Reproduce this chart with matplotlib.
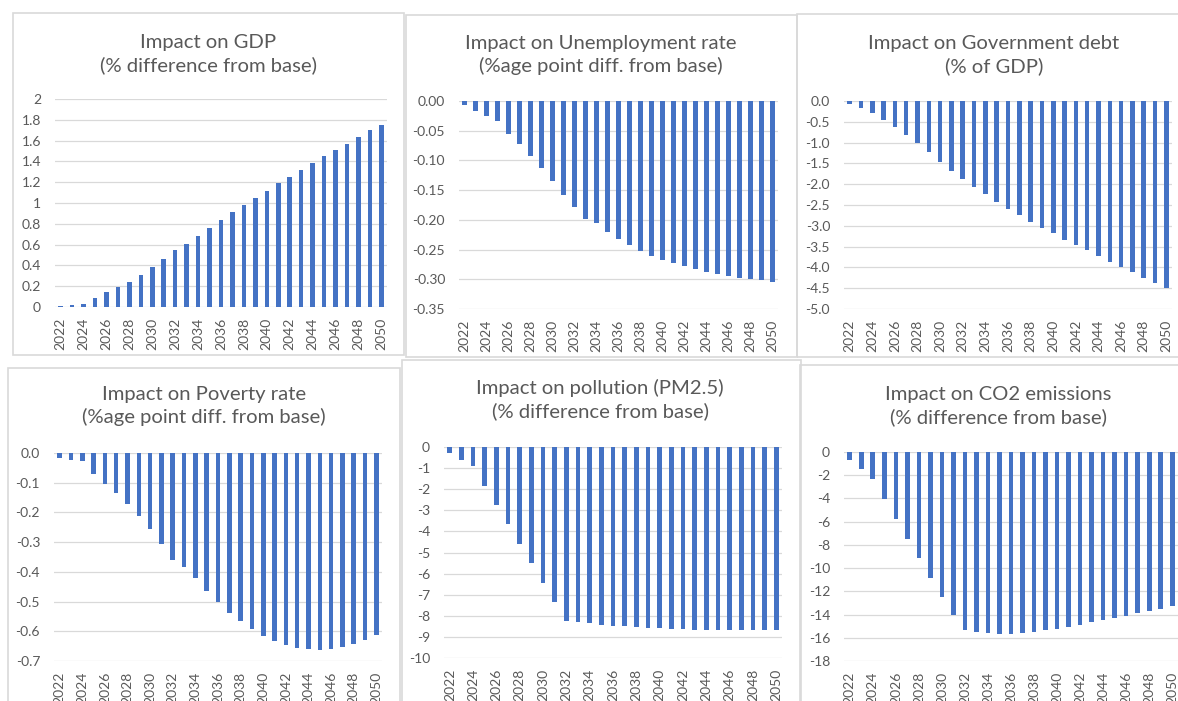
import numpy as np
import matplotlib
matplotlib.use('Agg')
import matplotlib.pyplot as plt
from matplotlib.patches import Rectangle

W, H = 1178, 701

years = list(range(2022, 2051))
year_labels = [str(y) if (y - 2022) % 2 == 0 else '' for y in years]

gdp = [0.01, 0.02, 0.03, 0.09, 0.14, 0.19, 0.24, 0.31, 0.38, 0.46,
       0.55, 0.61, 0.68, 0.76, 0.84, 0.91, 0.98, 1.05, 1.12, 1.19,
       1.25, 1.32, 1.38, 1.45, 1.51, 1.57, 1.63, 1.70, 1.75]
unemployment = [-0.006, -0.017, -0.025, -0.033, -0.055, -0.073, -0.092, -0.113, -0.135, -0.159,
                -0.178, -0.198, -0.206, -0.220, -0.232, -0.243, -0.252, -0.260, -0.267, -0.273,
                -0.278, -0.283, -0.287, -0.291, -0.294, -0.297, -0.300, -0.302, -0.304]
gov_debt = [-0.07, -0.17, -0.29, -0.45, -0.62, -0.81, -1.01, -1.22, -1.46, -1.68,
            -1.88, -2.06, -2.24, -2.42, -2.59, -2.74, -2.90, -3.05, -3.18, -3.33,
            -3.46, -3.59, -3.73, -3.86, -3.98, -4.12, -4.25, -4.38, -4.50]
poverty = [-0.016, -0.022, -0.027, -0.072, -0.104, -0.135, -0.171, -0.212, -0.257, -0.307,
           -0.361, -0.383, -0.421, -0.464, -0.502, -0.537, -0.566, -0.592, -0.615, -0.632,
           -0.645, -0.655, -0.661, -0.662, -0.659, -0.652, -0.642, -0.628, -0.614]
pollution = [-0.28, -0.60, -0.91, -1.83, -2.76, -3.65, -4.60, -5.51, -6.43, -7.34,
             -8.25, -8.31, -8.36, -8.43, -8.47, -8.50, -8.54, -8.57, -8.60, -8.61,
             -8.63, -8.65, -8.65, -8.66, -8.66, -8.66, -8.68, -8.68, -8.68]
co2 = [-0.69, -1.47, -2.36, -4.06, -5.79, -7.49, -9.16, -10.83, -12.48, -14.06,
       -15.33, -15.50, -15.62, -15.68, -15.65, -15.56, -15.48, -15.36, -15.22, -15.04,
       -14.87, -14.67, -14.50, -14.29, -14.09, -13.89, -13.69, -13.49, -13.28]

titles = [
    'Impact on GDP\n(% difference from base)',
    'Impact on Unemployment rate\n(%age point diff. from base)',
    'Impact on Government debt\n(% of GDP)',
    'Impact on Poverty rate\n(%age point diff. from base)',
    'Impact on pollution (PM2.5)\n(% difference from base)',
    'Impact on CO2 emissions\n(% difference from base)',
]
series = [gdp, unemployment, gov_debt, poverty, pollution, co2]
yticks = [
    (np.arange(0, 2.01, 0.2), '{:g}'),
    (np.arange(0, -0.351, -0.05), '{:.2f}'),
    (np.arange(0, -5.01, -0.5), '{:.1f}'),
    (np.arange(0, -0.701, -0.1), '{:.1f}'),
    (np.arange(0, -10.01, -1), '{:.0f}'),
    (np.arange(0, -18.01, -2), '{:.0f}'),
]

# layout in pixels: chart frame, plot area (x0, x1, ytop, ybottom), title centre
frames = [(13, 13, 391, 342), (406, 15, 391, 342), (797, 14, 390, 343),
          (8, 368, 392, 340), (402, 360, 399, 345), (800, 365, 390, 340)]
plot_areas = [(55, 387, 99, 307), (459, 778, 101, 309), (844, 1172, 101, 309),
              (54, 382, 453, 661), (444, 782, 447, 658), (844, 1178, 452, 661)]
title_pos = [(208, 54), (601, 55), (994, 55), (204, 406), (600, 400), (998, 406)]

BLUE = '#4472C4'
GREY = '#595959'
GRID = '#D9D9D9'
FONT = 'Lato'

plt.rcParams['font.family'] = FONT

fig = plt.figure(figsize=(W / 100, H / 100), dpi=100)
fig.patch.set_facecolor('white')

for (fx, fy, fw, fh) in frames:
    fig.patches.append(Rectangle((fx / W, 1 - (fy + fh) / H), fw / W, fh / H,
                                 transform=fig.transFigure, fill=False,
                                 edgecolor='#D9D9D9', lw=1.2))

x = np.arange(len(years))
for i, data in enumerate(series):
    x0, x1, yt, yb = plot_areas[i]
    ax = fig.add_axes([x0 / W, 1 - yb / H, (x1 - x0) / W, (yb - yt) / H])
    ax.bar(x, data, width=0.4, color=BLUE, zorder=3)
    ticks, fmt = yticks[i]
    lo, hi = min(ticks), max(ticks)
    ax.set_ylim(lo, hi)
    ax.set_xlim(-0.5, len(years) - 0.5)
    ax.set_yticks(ticks)
    ax.set_yticklabels([fmt.format(t + 0.0).replace('-0.00', '0.00') for t in ticks])
    ax.set_xticks(x)
    ax.set_xticklabels(year_labels, rotation=90)
    ax.tick_params(axis='both', length=0, colors=GREY, labelsize=10)
    ax.tick_params(axis='y', pad=10)
    ax.tick_params(axis='x', pad=8)
    ax.grid(axis='y', color=GRID, lw=0.9, zorder=0)
    for s in ax.spines.values():
        s.set_visible(False)
    tx, ty = title_pos[i]
    fig.text(tx / W, 1 - ty / H, titles[i], ha='center', va='center',
             fontsize=14.6, color=GREY, linespacing=1.35)

fig.savefig('out.png', dpi=100, facecolor='white')
